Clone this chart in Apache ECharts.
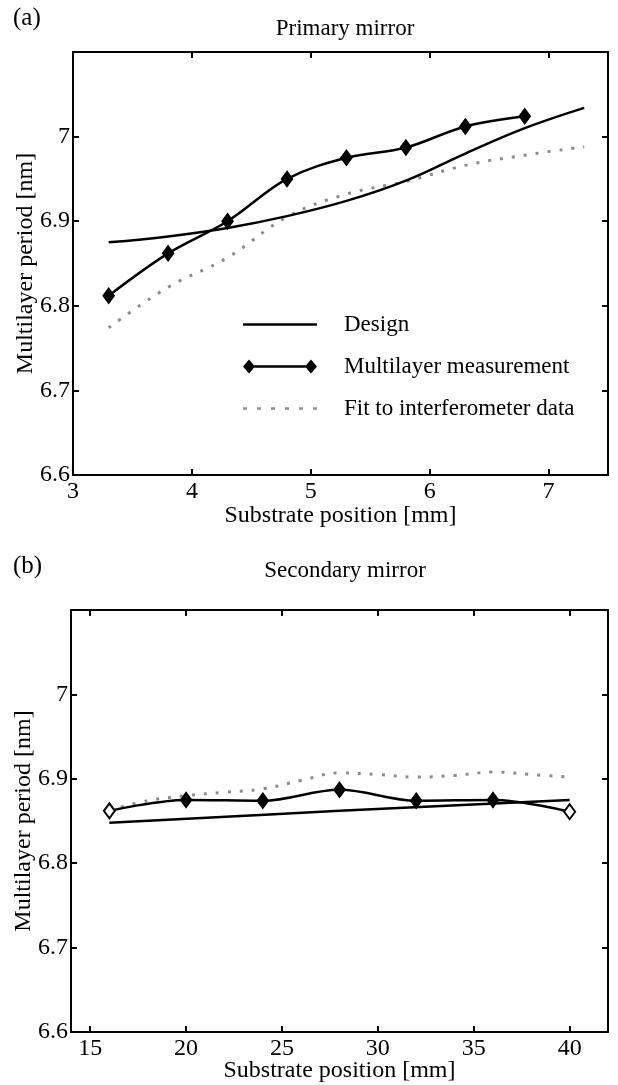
<!DOCTYPE html>
<html>
<head>
<meta charset="utf-8">
<script src="https://cdn.jsdelivr.net/npm/echarts@6/dist/echarts.min.js"></script>
<style>html,body{margin:0;padding:0;background:#fff;}#c{width:618px;height:1085px;}</style>
</head>
<body>
<div id="c"></div>
<script>
// ---- data ----
const yTicks = [6.6, 6.7, 6.8, 6.9, 7];
const topXTicks = [3, 4, 5, 6, 7];
const botXTicks = [15, 20, 25, 30, 35, 40];

// (a) Primary mirror
const aMeasX = [3.3, 3.8, 4.3, 4.8, 5.3, 5.8, 6.3, 6.8];
const aMeasY = [6.812, 6.862, 6.900, 6.950, 6.975, 6.987, 7.012, 7.024];
const aDesignX = [3.3, 3.8, 4.3, 4.8, 5.3, 5.8, 6.3, 6.8, 7.3];
const aDesignY = [6.875, 6.882, 6.892, 6.906, 6.924, 6.948, 6.980, 7.010, 7.034];
const aFitX = [3.3, 3.8, 4.3, 4.8, 5.3, 5.8, 6.3, 6.8, 7.3];
const aFitY = [6.774, 6.822, 6.857, 6.905, 6.932, 6.947, 6.966, 6.978, 6.988];

// (b) Secondary mirror
const bMeasX = [16, 20, 24, 28, 32, 36, 40];
const bMeasY = [6.862, 6.875, 6.874, 6.887, 6.874, 6.875, 6.861];
const bDesignX = [16, 28, 40];
const bDesignY = [6.848, 6.862, 6.875];
const bFitX = [16, 18, 20, 22, 24, 26, 28, 30, 32, 34, 36, 38, 40];
const bFitY = [6.863, 6.874, 6.880, 6.884, 6.888, 6.898, 6.907, 6.905, 6.902, 6.904, 6.908, 6.905, 6.902];

const NAMES = ['Design', 'Multilayer measurement', 'Fit to interferometer data'];

// ---- helpers ----
const zip = (xs, ys) => xs.map((x, i) => [x, ys[i]]);
const FONT = 'Liberation Serif';
const txt = { fontFamily: FONT, color: '#000', fontSize: 24, fontWeight: 'normal' };
const axisLine = { show: true, lineStyle: { color: '#000', width: 2 } };
const tickStyle = { color: '#000', width: 2 };

function xAxisPair(grid, min, max, ticks, nameGap) {
  return [
    { type: 'value', gridIndex: grid, position: 'bottom', min: min, max: max,
      name: 'Substrate position [mm]', nameLocation: 'middle', nameGap: nameGap,
      nameMoveOverlap: false,
      nameTextStyle: txt, axisLine: axisLine, splitLine: { show: false },
      axisTick: { inside: true, length: 6, customValues: ticks, lineStyle: tickStyle },
      axisLabel: Object.assign({ margin: 5, customValues: ticks }, txt) },
    { type: 'value', gridIndex: grid, position: 'top', min: min, max: max,
      axisLine: axisLine, splitLine: { show: false },
      axisTick: { inside: true, length: 6, customValues: ticks, lineStyle: tickStyle },
      axisLabel: { show: false } }
  ];
}
function yAxisPair(grid) {
  return [
    { type: 'value', gridIndex: grid, position: 'left', min: 6.6, max: 7.1,
      name: 'Multilayer period [nm]', nameLocation: 'middle', nameGap: 35,
      nameMoveOverlap: false,
      nameTextStyle: txt, axisLine: axisLine, splitLine: { show: false },
      axisTick: { inside: true, length: 6, customValues: yTicks, lineStyle: tickStyle },
      axisLabel: Object.assign({ margin: 3, customValues: yTicks }, txt) },
    { type: 'value', gridIndex: grid, position: 'right', min: 6.6, max: 7.1,
      axisLine: axisLine, splitLine: { show: false },
      axisTick: { inside: true, length: 6, customValues: yTicks, lineStyle: tickStyle },
      axisLabel: { show: false } }
  ];
}

function seriesFor(xi, yi, designX, designY, measX, measY, fitX, fitY, hollowEnds) {
  const meas = zip(measX, measY).map((p, i) => {
    const o = { value: p };
    if (hollowEnds && (i === 0 || i === measX.length - 1)) {
      o.itemStyle = { color: '#fff', borderColor: '#000', borderWidth: 2 };
    }
    return o;
  });
  return [
    { name: NAMES[2], type: 'line', xAxisIndex: xi, yAxisIndex: yi, data: zip(fitX, fitY),
      smooth: 0.4, showSymbol: false, symbol: 'none',
      lineStyle: { color: '#8c8c8c', width: 3, type: [3, 9] }, itemStyle: { color: '#8c8c8c' }, z: 2 },
    { name: NAMES[0], type: 'line', xAxisIndex: xi, yAxisIndex: yi, data: zip(designX, designY),
      smooth: 0.4, showSymbol: false, symbol: 'none',
      lineStyle: { color: '#000', width: 2.5 }, itemStyle: { color: '#000' }, z: 3 },
    { name: NAMES[1], type: 'line', xAxisIndex: xi, yAxisIndex: yi, data: meas,
      smooth: 0.35, symbol: 'diamond', symbolSize: [11, 15],
      lineStyle: { color: '#000', width: 2.5 }, itemStyle: { color: '#000', borderColor: '#000', borderWidth: 1.5 }, z: 4 }
  ];
}

// legend icons (line only / line with diamonds at both ends / dotted)
const ICON_LINE = 'path://M0,5.8 L74,5.8 L74,8.4 L0,8.4 Z';
const ICON_DIAMOND = 'path://M0,7 L6,0 L12,7 L6,14 Z M62,7 L68,0 L74,7 L68,14 Z M6,5.8 L68,5.8 L68,8.2 L6,8.2 Z';
let dots = '';
for (let k = 0; k < 6; k++) { const x0 = k * 14; dots += 'M' + x0 + ',6 L' + (x0 + 4) + ',6 L' + (x0 + 4) + ',8.5 L' + x0 + ',8.5 Z '; }
const ICON_DOTS = 'path://' + dots.trim();

const xa = xAxisPair(0, 3, 7.5, topXTicks, 29).concat(xAxisPair(1, 14, 42, botXTicks, 27));
const ya = yAxisPair(0).concat(yAxisPair(1));

const titleStyle = Object.assign({}, txt, { fontSize: 23 });
const option = {
  animation: false,
  backgroundColor: '#fff',
  textStyle: { fontFamily: FONT },
  title: [
    { text: '(a)', left: 8, top: 1, textStyle: Object.assign({}, txt, { fontSize: 25 }) },
    { text: 'Primary mirror', left: 340, top: 12, textAlign: 'center', textStyle: titleStyle },
    { text: '(b)', left: 8, top: 549, textStyle: Object.assign({}, txt, { fontSize: 25 }) },
    { text: 'Secondary mirror', left: 340, top: 554, textAlign: 'center', textStyle: titleStyle }
  ],
  legend: {
    orient: 'vertical', left: 238, top: 308, itemGap: 19,
    itemWidth: 74, itemHeight: 14,
    textStyle: Object.assign({}, txt, { fontSize: 23, padding: [0, 0, 0, 22] }),
    data: [
      { name: NAMES[0], icon: ICON_LINE },
      { name: NAMES[1], icon: ICON_DIAMOND, itemStyle: { borderWidth: 0 } },
      { name: NAMES[2], icon: ICON_DOTS }
    ]
  },
  grid: [
    { left: 73, right: 10, top: 52, height: 423, outerBoundsMode: 'none', containLabel: false },
    { left: 71, right: 10, top: 610, height: 422, outerBoundsMode: 'none', containLabel: false }
  ],
  xAxis: xa,
  yAxis: ya,
  series: seriesFor(0, 0, aDesignX, aDesignY, aMeasX, aMeasY, aFitX, aFitY, false)
    .concat(seriesFor(2, 2, bDesignX, bDesignY, bMeasX, bMeasY, bFitX, bFitY, true))
};
echarts.init(document.getElementById('c'), null, { renderer: 'canvas' }).setOption(option);
</script>
</body>
</html>
